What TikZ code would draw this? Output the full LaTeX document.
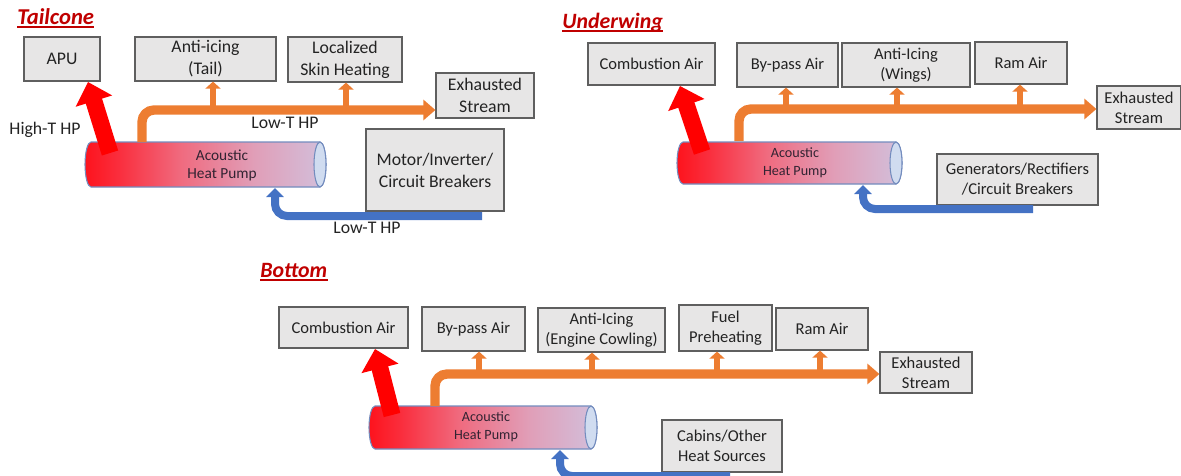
\documentclass[tikz,border=0pt]{standalone}
\usepackage{fontspec}
\setmainfont{Carlito}
\usetikzlibrary{arrows.meta}
\definecolor{boxfill}{RGB}{231,230,230}
\definecolor{boxline}{RGB}{95,95,95}
\definecolor{txt}{RGB}{35,35,35}
\definecolor{tubetext}{RGB}{50,35,50}
\definecolor{hotred}{RGB}{255,0,0}
\definecolor{warmor}{RGB}{237,125,49}
\definecolor{coldbl}{RGB}{68,114,196}
\definecolor{titlered}{RGB}{192,0,0}
\definecolor{tubeline}{RGB}{115,140,190}
\definecolor{tubeendfill}{RGB}{208,220,240}
\pgfdeclarehorizontalshading{tubeshade}{100bp}{rgb(0bp)=(1,0,0); rgb(22bp)=(1,0.03,0.06); rgb(32bp)=(0.98,0.18,0.24); rgb(45bp)=(0.94,0.42,0.50); rgb(60bp)=(0.88,0.62,0.72); rgb(76bp)=(0.82,0.76,0.87); rgb(92bp)=(0.78,0.84,0.94); rgb(100bp)=(0.78,0.84,0.94)}
\newcommand\acoustictube[4]{%
  \path[tubeside] (#1+6,-#3+#4) -- (#2,-#3+#4) arc[start angle=90,end angle=-90,x radius=6,y radius=#4]
    -- (#1+6,-#3-#4) arc[start angle=270,end angle=90,x radius=6,y radius=#4] -- cycle;
  \path[tubeend] (#2,-#3) ellipse[x radius=6,y radius=#4];}
\begin{document}
\begin{tikzpicture}[x=0.75pt,y=0.75pt,
  every node/.style={text=txt},
  box/.style={draw=boxline, fill=boxfill, line width=0.9pt, inner sep=0pt, align=center},
  bigf/.style={font=\fontsize{13.3}{16.5}\selectfont},
  smallf/.style={font=\fontsize{12.4}{15}\selectfont},
  hot/.style={draw=hotred, line width=12.75pt, -{Triangle[width=27.75pt,length=15pt]}},
  warm/.style={draw=warmor, line width=7pt, rounded corners=9pt, -{Triangle[width=15pt,length=9pt]}},
  twig/.style={draw=warmor, line width=4.5pt, -{Triangle[width=11.25pt,length=5.25pt]}},
  cold/.style={draw=coldbl, line width=6pt, rounded corners=9pt, -{Triangle[width=12.75pt,length=6.75pt]}},
  tubeside/.style={draw=tubeline, line width=0.8pt, shade, shading=tubeshade},
  tubeend/.style={draw=tubeline, line width=0.8pt, fill=tubeendfill},
  tubetxt/.style={align=center, text=tubetext},
  bigtube/.style={font=\fontsize{11.5}{13.5}\selectfont},
  smalltube/.style={font=\fontsize{10.6}{13.5}\selectfont},
  lab/.style={font=\fontsize{13.3}{16}\selectfont},
  ttl/.style={text=titlered, inner sep=0pt, anchor=base west, font=\bfseries\itshape\fontsize{17}{20}\selectfont},
  ul/.style={draw=titlered, line width=1.5pt}
]
\useasboundingbox (0,0) rectangle (1181,-475);
\clip (0,0) rectangle (1181,-475);

% ---------------- Tailcone ----------------
\node[ttl] (tA) at (17,-24) {Tailcone};
\draw[ul] ([yshift=-2.5pt]tA.base west) -- ([yshift=-2.5pt]tA.base east);
\node[box,bigf,minimum width=57pt,minimum height=33pt] (apuA) at (62,-59) {APU};
\node[box,bigf,minimum width=105.75pt,minimum height=33pt] (aiA) at (205.5,-59) {Anti-icing\\(Tail)};
\node[box,bigf,minimum width=85.5pt,minimum height=33.75pt] (lsA) at (345,-59.5) {Localized\\Skin Heating};
\node[box,bigf,minimum width=73.5pt,minimum height=33.75pt] (exA) at (485,-95.5) {Exhausted\\Stream};
\node[box,bigf,minimum width=103.5pt,minimum height=61.5pt] (moA) at (435,-170) {Motor/Inverter/\\Circuit Breakers};
\acoustictube{85}{320}{164.5}{22.5}
\node[tubetxt,bigtube] (tubA) at (222,-165) {Acoustic\\Heat Pump};
\node[lab] (hiA) at (45,-130) {High-T HP};
\node[lab] (loA1) at (285,-123) {Low-T HP};
\node[lab] (loA2) at (367,-228) {Low-T HP};
\coordinate (hA0) at (110,-153);
\coordinate (hA1) at (88,-82);
\draw[hot] (hA0) -- (hA1);
\coordinate (oA0) at (142,-142);
\coordinate (oA1) at (142,-110);
\coordinate (oA2) at (213,-110);
\coordinate (oA3) at (346,-110);
\draw[twig] (oA2) -- (oA2 |- aiA.south);
\draw[twig] (oA3) -- (oA3 |- lsA.south);
\draw[warm] (oA0) -- (oA1) -- (oA1 -| exA.west);
\coordinate (bA0) at (482,-216);
\coordinate (bA1) at (275,-216);
\coordinate (bA2) at (275,-188);
\draw[cold] (bA0) -- (bA1) -- (bA2);

% ---------------- Underwing ----------------
\node[ttl,font=\bfseries\itshape\fontsize{16.4}{20}\selectfont] (tB) at (562,-28) {Underwing};
\draw[ul] ([yshift=-2.5pt]tB.base west) -- ([yshift=-2.5pt]tB.base east);
\node[box,smallf,minimum width=95.25pt,minimum height=31.5pt] (caB) at (651.5,-64) {Combustion Air};
\node[box,smallf,minimum width=75.75pt,minimum height=33pt] (bpB) at (787.5,-65) {By-pass Air};
\node[box,smallf,minimum width=96pt,minimum height=33pt] (aiB) at (906,-65) {Anti-Icing\\(Wings)};
\node[box,smallf,minimum width=69pt,minimum height=31.5pt] (ramB) at (1021,-63) {Ram Air};
\node[box,smallf,minimum width=63pt,minimum height=32.25pt] (exB) at (1139,-107.5) {Exhausted\\Stream};
\node[box,smallf,minimum width=120.75pt,minimum height=38.25pt] (geB) at (1017.5,-179.5) {Generators/Rectifiers\\/Circuit Breakers};
\acoustictube{677}{896}{163}{21}
\node[tubetxt,smalltube] (tubB) at (795,-163) {Acoustic\\Heat Pump};
\coordinate (hB0) at (702,-152);
\coordinate (hB1) at (680,-86);
\draw[hot] (hB0) -- (hB1);
\coordinate (oB0) at (739,-141);
\coordinate (oB1) at (739,-109);
\coordinate (oB2) at (786,-109);
\coordinate (oB3) at (897,-109);
\coordinate (oB4) at (1020,-109);
\draw[twig] (oB2) -- (oB2 |- bpB.south);
\draw[twig] (oB3) -- (oB3 |- aiB.south);
\draw[twig] (oB4) -- (oB4 |- ramB.south);
\draw[warm] (oB0) -- (oB1) -- (oB1 -| exB.west);
\coordinate (bB0) at (1033,-209);
\coordinate (bB1) at (863,-209);
\coordinate (bB2) at (863,-185);
\draw[cold] (bB0) -- (bB1) -- (bB2);

% ---------------- Bottom ----------------
\node[ttl,font=\bfseries\itshape\fontsize{16.4}{20}\selectfont] (tC) at (260,-277) {Bottom};
\draw[ul] ([yshift=-2.5pt]tC.base west) -- ([yshift=-2.5pt]tC.base east);
\node[box,smallf,minimum width=96.75pt,minimum height=30.75pt] (caC) at (343.5,-327.5) {Combustion Air};
\node[box,smallf,minimum width=77.25pt,minimum height=33pt] (bpC) at (473.5,-329) {By-pass Air};
\node[box,smallf,minimum width=95.25pt,minimum height=33pt] (aiC) at (601.5,-330) {Anti-Icing\\(Engine Cowling)};
\node[box,smallf,minimum width=69.75pt,minimum height=34.5pt] (fuC) at (725.5,-328) {Fuel\\Preheating};
\node[box,smallf,minimum width=69pt,minimum height=31.5pt] (ramC) at (822,-329) {Ram Air};
\node[box,smallf,minimum width=69pt,minimum height=30.75pt] (exC) at (926,-372.5) {Exhausted\\Stream};
\node[box,smallf,minimum width=90pt,minimum height=39pt] (cbC) at (722,-446) {Cabins/Other\\Heat Sources};
\acoustictube{369}{591}{427.5}{21.5}
\node[tubetxt,smalltube] (tubC) at (486,-427) {Acoustic\\Heat Pump};
\coordinate (hC0) at (392,-415);
\coordinate (hC1) at (375,-349);
\draw[hot] (hC0) -- (hC1);
\coordinate (oC0) at (435,-406);
\coordinate (oC1) at (435,-374);
\coordinate (oC2) at (479,-374);
\coordinate (oC3) at (592,-374);
\coordinate (oC4) at (717,-374);
\coordinate (oC5) at (820,-374);
\draw[twig] (oC2) -- (oC2 |- bpC.south);
\draw[twig] (oC3) -- (oC3 |- aiC.south);
\draw[twig] (oC4) -- (oC4 |- fuC.south);
\draw[twig] (oC5) -- (oC5 |- ramC.south);
\draw[warm] (oC0) -- (oC1) -- (oC1 -| exC.west);
\coordinate (bC0) at (730,-476);
\coordinate (bC1) at (560,-476);
\coordinate (bC2) at (560,-450);
\draw[cold] (bC0) -- (bC1) -- (bC2);
\end{tikzpicture}
\end{document}
